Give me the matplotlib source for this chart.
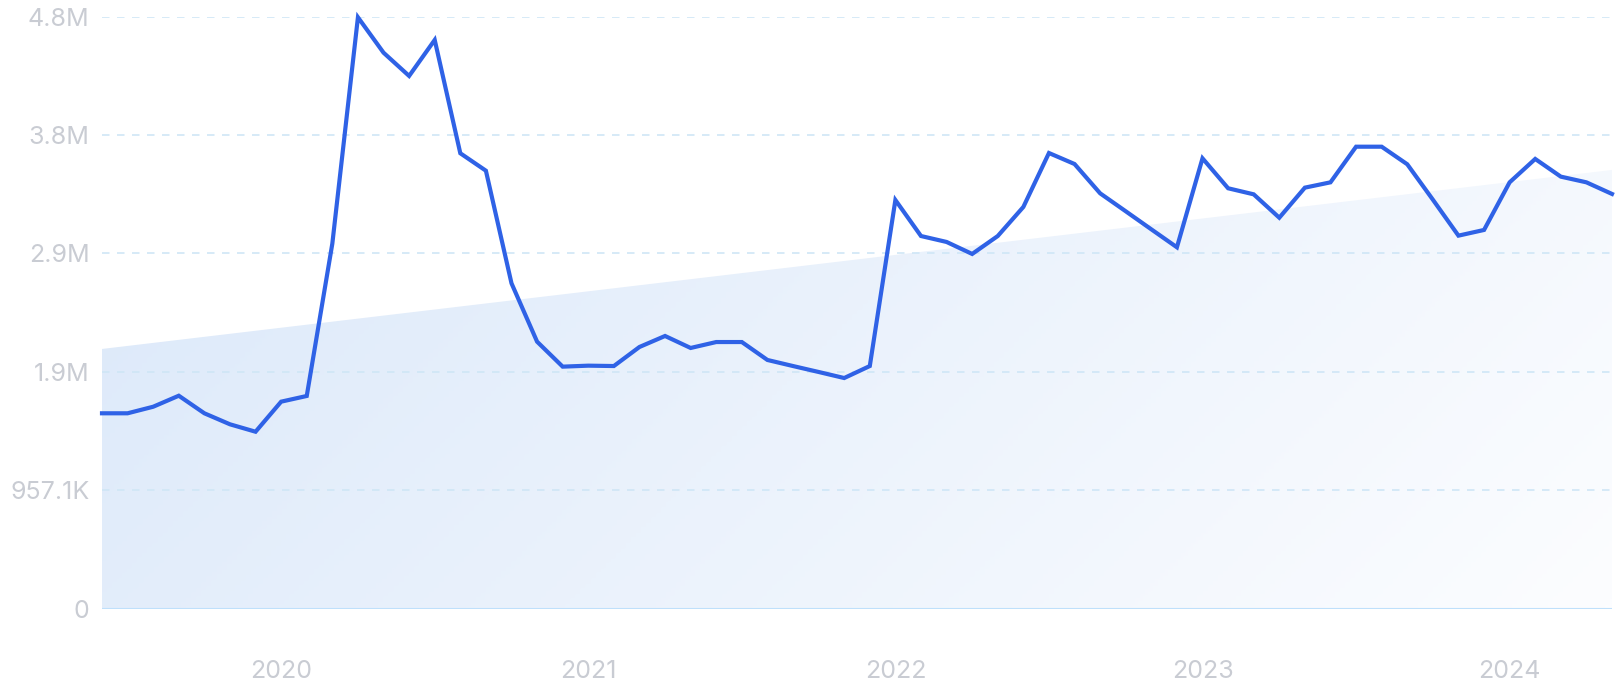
import numpy as np
import matplotlib
matplotlib.use('Agg')
import matplotlib.pyplot as plt
from matplotlib.colors import LinearSegmentedColormap

# monthly values, Jun 2019 .. May 2024
months = ['2019-06', '2019-07', '2019-08', '2019-09', '2019-10', '2019-11', '2019-12',
          '2020-01', '2020-02', '2020-03', '2020-04', '2020-05', '2020-06', '2020-07',
          '2020-08', '2020-09', '2020-10', '2020-11', '2020-12',
          '2021-01', '2021-02', '2021-03', '2021-04', '2021-05', '2021-06', '2021-07',
          '2021-08', '2021-09', '2021-10', '2021-11', '2021-12',
          '2022-01', '2022-02', '2022-03', '2022-04', '2022-05', '2022-06', '2022-07',
          '2022-08', '2022-09', '2022-10', '2022-11', '2022-12',
          '2023-01', '2023-02', '2023-03', '2023-04', '2023-05', '2023-06', '2023-07',
          '2023-08', '2023-09', '2023-10', '2023-11', '2023-12',
          '2024-01', '2024-02', '2024-03', '2024-04', '2024-05']
values = [1.578, 1.578, 1.631, 1.720, 1.578, 1.489, 1.429,
          1.672, 1.718, 2.950, 4.779, 4.493, 4.305, 4.596,
          3.680, 3.539, 2.629, 2.157, 1.955,
          1.963, 1.960, 2.114, 2.203, 2.106, 2.154, 2.154,
          2.009, 1.960, 1.912, 1.863, 1.960,
          3.302, 3.011, 2.963, 2.866, 3.011, 3.246, 3.682,
          3.593, 3.356, 3.211, 3.065, 2.920,
          3.639, 3.397, 3.348, 3.159, 3.402, 3.445, 3.733,
          3.733, 3.591, 3.305, 3.014, 3.060,
          3.445, 3.634, 3.491, 3.445, 3.351]
values = np.array(values) * 1e6

# trend band (start / end)
trend = [2.098e6, 3.545e6]

ytick_vals = [0, 957.1e3, 1914.2e3, 2871.3e3, 3828.4e3, 4785.5e3]
ytick_labels = ['0', '957.1K', '1.9M', '2.9M', '3.8M', '4.8M']
years = ['2020', '2021', '2022', '2023', '2024']

plt.rcParams['font.family'] = ['Inter', 'DejaVu Sans']

fig = plt.figure(figsize=(16.17, 7.0), dpi=100)
ax = fig.add_axes([102 / 1617, 91.5 / 700, 1510 / 1617, 592 / 700])

x = np.arange(len(values))
xmax = len(values) - 1
ymax = ytick_vals[-1]

# gradient fill under the trend: blue at left, almost white at bottom right
poly = ax.fill_between([0, xmax], [trend[0], trend[1]], 0, color='none', lw=0)
cmap = LinearSegmentedColormap.from_list('g', ['#d9e7f9', '#fcfdff'])
gx, gy = np.meshgrid(np.linspace(0, 1, 300), np.linspace(0, 1, 300))
grad = 0.72 * gx + 0.28 * gy
im = ax.imshow(grad, extent=[0, xmax, 0, ymax], origin='upper', cmap=cmap,
               aspect='auto', zorder=1)
im.set_clip_path(poly.get_paths()[0], transform=ax.transData)

for v in ytick_vals[1:]:
    ax.axhline(v, color='#cfe6f6', lw=1.2, linestyle=(0, (4.5, 4.5)), zorder=2)
ax.axhline(0, color='#bfe0fb', lw=1.5, zorder=2)

ax.plot(x, values, color='#2f62e6', lw=3.0, solid_joinstyle='miter',
        zorder=3, clip_on=False)

ax.set_xlim(0, xmax)
ax.set_ylim(0, ymax)
ax.set_yticks(ytick_vals)
ax.set_yticklabels(ytick_labels)
ax.set_xticks([months.index(y + '-01') for y in years])
ax.set_xticklabels(years)
ax.tick_params(axis='both', length=0, labelsize=18, labelcolor='#c9ccd3')
ax.tick_params(axis='y', pad=9)
ax.tick_params(axis='x', pad=37)
for s in ax.spines.values():
    s.set_visible(False)

fig.savefig('out.png', dpi=100)
